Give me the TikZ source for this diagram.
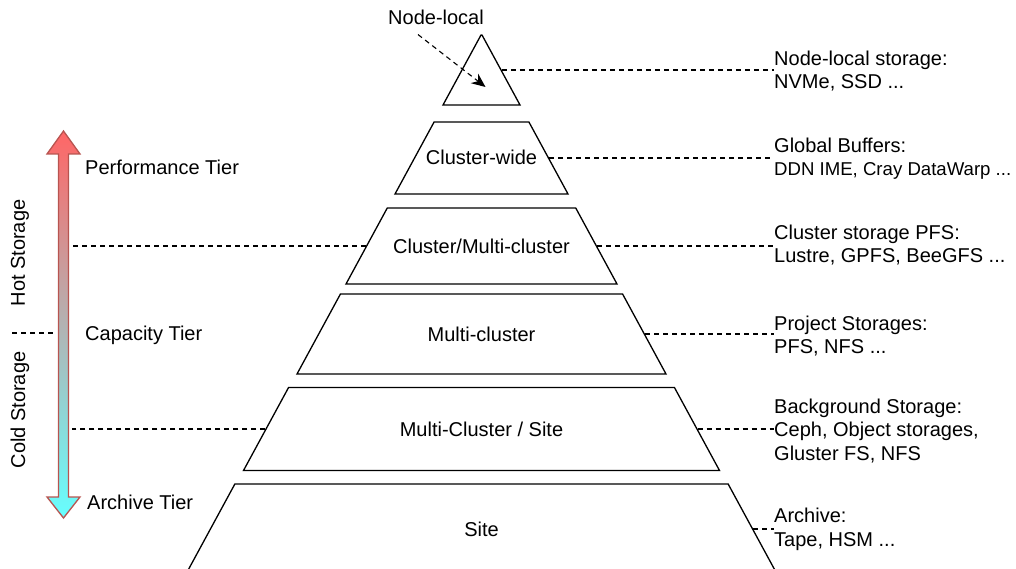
\documentclass[tikz,border=0pt]{standalone}
\usepackage{fontspec}
\setmainfont{Liberation Sans}
\usetikzlibrary{positioning,shapes,arrows.meta}
\definecolor{hot}{HTML}{FF6666}
\definecolor{cold}{HTML}{66FFFF}
\definecolor{rim}{HTML}{B85450}
\newcommand{\txt}{\fontsize{20}{23.5}\selectfont}
\newcommand{\smalltxt}{\fontsize{18.6}{23.5}\selectfont}
\newcommand{\lvl}[1]{\makebox[0pt]{#1}}
\tikzstyle{T} = [trapezium, draw, line width=1.3pt,
			trapezium left angle=61.5, trapezium right angle=61.5,
			trapezium stretches body=true, inner xsep=0.5pt,
			text height=17pt, text depth=3pt, font=\txt]
\tikzstyle{R} = [anchor=west, align=left, inner sep=0pt, font=\txt]
\tikzstyle{W} = [inner sep=0pt, font=\txt]
\tikzstyle{D} = [draw, line width=1.1pt, dash pattern=on 5pt off 4pt]
\tikzstyle{A} = [D, -{Stealth[length=14pt,width=12pt]}]

\begin{document}
\begin{tikzpicture}[x=1pt, y=-1pt, node distance=88pt, on grid]

\useasboundingbox (0,0) rectangle (1016,569);
\clip (0,0) rectangle (1016,569);

\node [T, inner ysep=25pt, minimum width=77pt]
(tri) at (481.5,70)
	{};

\node [T, below=of tri, inner ysep=26pt, minimum width=173pt]
(cw)
	{\lvl{Cluster-wide}};

\node [T, below=of cw, inner ysep=28pt, minimum width=271pt]
(cmc)
	{\lvl{Cluster/Multi-cluster}};

\node [T, below=of cmc, inner ysep=30pt, minimum width=369pt]
(mc)
	{\lvl{Multi-cluster}};

\node [T, below=95pt of mc, inner ysep=31.5pt, minimum width=476pt]
(mcs)
	{\lvl{Multi-Cluster / Site}};

\node [T, below=100pt of mcs, inner ysep=35pt, minimum width=591pt]
(site)
	{\lvl{Site}};

\node [W]
(nlab) at (436,17)
	{Node-local};

\node [R]
(nl) at (774,71)
	{Node-local storage:\\NVMe, SSD ...};

\node [R]
(gb) at (774,158.5)
	{Global Buffers:\\{\smalltxt DDN IME, Cray DataWarp ...}};

\node [R]
(pfs) at (774,245)
	{Cluster storage PFS:\\Lustre, GPFS, BeeGFS ...};

\node [R]
(prj) at (774,336)
	{Project Storages:\\PFS, NFS ...};

\node [R]
(bg) at (774,431)
	{Background Storage:\\Ceph, Object storages,\\Gluster FS, NFS};

\node [R]
(arc) at (774,529.5)
	{Archive:\\Tape, HSM ...};

\shadedraw [top color=hot, bottom color=cold, draw=rim, line width=1.3pt]
	(63.5,131) -- (80,154) -- (68.5,154) -- (68.5,497) -- (80,497)
	-- (63.5,518) -- (47,497) -- (58.5,497) -- (58.5,154) -- (47,154) -- cycle;

\node [W, anchor=west]
(perf) at (85,167)
	{Performance Tier};

\node [W, anchor=west]
(cap) at (85,335)
	{Capacity Tier};

\node [W, anchor=west]
(arch) at (87,502)
	{Archive Tier};

\node [W, rotate=90]
(hot) at (20,253)
	{Hot Storage};

\node [W, rotate=90]
(cold) at (20,410)
	{Cold Storage};

\coordinate (h1) at (12,333);
\coordinate (h2) at (55,333);
\coordinate (l1) at (72,246);

\path[A] ([xshift=-18pt,yshift=-10pt]nlab.south) -- ([xshift=4pt,yshift=-17pt]tri.center);

\path[D] (tri.east) -- (tri.east -| nl.west);

\path[D] (cw.east) -- (cw.east -| gb.west);

\path[D] (cmc.east) -- (cmc.east -| pfs.west);

\path[D] (mc.east) -- (mc.east -| prj.west);

\path[D] (mcs.east) -- (mcs.east -| bg.west);

\path[D] (site.east) -- (site.east -| arc.west);

\path[D] (cmc.west) -- (cmc.west -| l1);

\path[D] (mcs.west) -- (mcs.west -| l1);

\path[D] (h1) -- (h2);

\end{tikzpicture}
\end{document}
